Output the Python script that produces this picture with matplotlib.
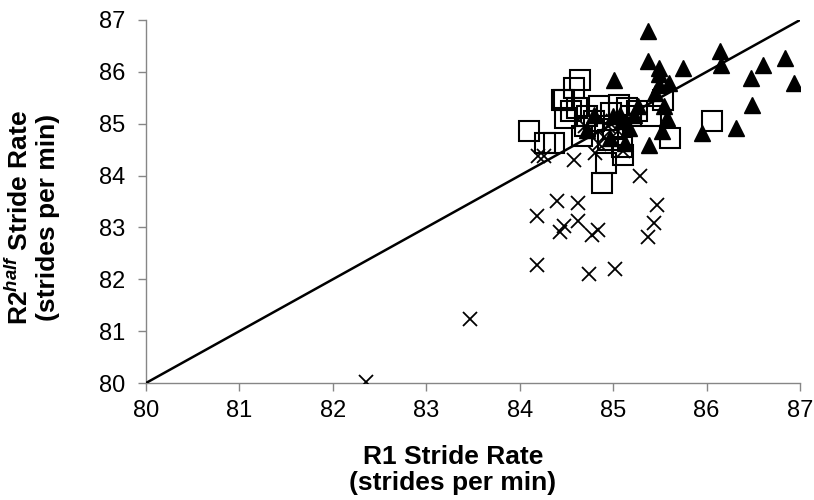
import matplotlib
matplotlib.use("Agg")
import matplotlib.pyplot as plt

plt.rcParams['font.family'] = ['Liberation Sans', 'DejaVu Sans']
plt.rcParams['mathtext.fontset'] = 'custom'
plt.rcParams['mathtext.rm'] = 'Liberation Sans'
plt.rcParams['mathtext.it'] = 'Liberation Sans:italic'
plt.rcParams['mathtext.bf'] = 'Liberation Sans:bold'
plt.rcParams['mathtext.bfit'] = 'Liberation Sans:italic:bold'

# Series: crosses
cross_x = [82.35, 83.47, 84.18, 84.18, 84.40, 84.62, 84.47, 84.43, 84.62, 84.77, 84.84,
           84.74, 85.02, 85.47, 85.44, 85.37, 85.29, 84.58, 84.20, 84.26, 84.81, 85.11,
           84.90, 85.00, 84.95, 85.05, 84.85, 84.70]
cross_y = [80.02, 81.24, 82.28, 83.22, 83.51, 83.47, 83.03, 82.92, 83.13, 82.86, 82.95,
           82.10, 82.19, 83.44, 83.08, 82.81, 84.00, 84.30, 84.38, 84.37, 84.43, 84.47,
           84.75, 85.05, 84.95, 84.85, 84.60, 84.95]

# Series: squares
square_x = [84.10, 84.27, 84.37, 84.64, 84.58, 84.47, 84.49, 84.61, 84.67, 84.85, 85.06,
            84.94, 84.92, 84.88, 85.11, 85.10, 85.26, 85.40, 85.53, 85.61, 86.06, 84.70,
            85.19, 84.55, 84.80, 84.98, 85.00, 84.45, 84.72, 85.15]
square_y = [84.85, 84.63, 84.63, 85.85, 85.69, 85.46, 85.11, 85.30, 84.76, 85.34, 85.37,
            84.69, 84.24, 83.85, 84.40, 84.56, 85.24, 85.14, 85.46, 84.72, 85.05, 84.95,
            85.14, 85.25, 85.05, 85.20, 84.90, 85.45, 85.15, 85.30]

# Series: triangles
tri_x = [85.37, 85.37, 85.49, 85.75, 86.14, 86.15, 86.60, 86.84, 86.94, 86.48, 86.49,
         86.32, 85.95, 85.38, 85.52, 85.58, 85.54, 85.60, 85.49, 85.49, 85.01, 85.27,
         85.13, 84.97, 85.17, 84.79, 84.72, 85.00, 85.07, 85.22, 85.45, 85.10]
tri_y = [86.78, 86.21, 86.08, 86.08, 86.40, 86.14, 86.14, 86.27, 85.78, 85.88, 85.37,
         84.91, 84.82, 84.59, 84.86, 85.11, 85.34, 85.78, 85.75, 85.95, 85.85, 85.34,
         84.63, 84.72, 84.91, 85.17, 84.88, 85.14, 85.17, 85.17, 85.60, 85.05]

line_x = [80, 87]
line_y = [80, 87]

ticks = [80, 81, 82, 83, 84, 85, 86, 87]

W, H = 814, 500
fig = plt.figure(figsize=(W / 100, H / 100), dpi=100)
ax = fig.add_axes([146 / W, (H - 383) / H, 654 / W, 363 / H])

ax.plot(cross_x, cross_y, linestyle='none', marker='x', ms=10, mew=1.3, color='black', zorder=3)
ax.plot(square_x, square_y, linestyle='none', marker='s', ms=14, mew=1.5,
        markerfacecolor='none', markeredgecolor='black', zorder=3)
ax.plot(tri_x, tri_y, linestyle='none', marker='^', ms=11, color='black', zorder=4)
ax.plot(line_x, line_y, color='black', lw=1.8, zorder=5)

ax.set_xlim(80, 87)
ax.set_ylim(80, 87)
ax.set_xticks(ticks)
ax.set_yticks(ticks)
for s in ['top', 'right']:
    ax.spines[s].set_visible(False)
for s in ['left', 'bottom']:
    ax.spines[s].set_color('#868686')
    ax.spines[s].set_linewidth(1.0)
ax.tick_params(direction='out', length=6, width=1.0, color='#868686', labelsize=17,
               labelcolor='black')
ax.tick_params(axis='x', pad=6)
ax.tick_params(axis='y', pad=9)

fig.text(453 / W, 1 - 470 / H, 'R1 Stride Rate\n(strides per min)', fontsize=19,
         fontweight='bold', ha='center', va='center', linespacing=1.15)
fig.text(33 / W, 1 - 217 / H, r'R2$^{\mathbfit{half}}$ Stride Rate' + '\n(strides per min)',
         fontsize=19, fontweight='bold', ha='center', va='center', rotation=90,
         linespacing=1.15)

fig.savefig('out.png', dpi=100)
